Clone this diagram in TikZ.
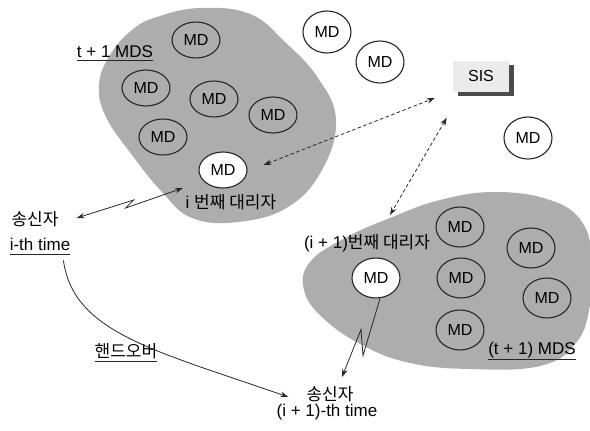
\documentclass[tikz,border=0pt]{standalone}
\usepackage{fontspec}
\setmainfont{Liberation Sans}
\newfontfamily\kr{Noto Sans CJK KR}
\usetikzlibrary{shapes.geometric,arrows.meta,shadows}

\begin{document}
\begin{tikzpicture}[x=1pt,y=-1pt,
  md/.style={ellipse,draw=black!85,line width=1.1pt,minimum width=48pt,
    minimum height=36pt,inner sep=0pt,font=\fontsize{16}{16}\selectfont},
  mdout/.style={md,minimum height=42pt},
  mdbot/.style={md,minimum height=40pt},
  active/.style={fill=white},
  lbl/.style={inner sep=0pt,font=\fontsize{17}{17}\selectfont},
  blob/.style={fill=black!32,draw=none},
  ul/.style={line width=0.8pt,black!85},
  link/.style={line width=0.8pt,black!85},
  tipe/.style={-{Stealth[length=8pt,width=5.5pt]}},
  tipb/.style={{Stealth[length=8pt,width=5.5pt]}-{Stealth[length=8pt,width=5.5pt]}},
  query/.style={link,dashed,dash pattern=on 3.5pt off 2.5pt,tipb},
]
\useasboundingbox (0,0) rectangle (590,431);

% the two shaded MD groups
\fill[blob] plot[smooth cycle,tension=0.7] coordinates {
  (157,17) (200,8) (250,14) (285,42) (318,78) (336,120) (322,170)
  (288,207) (238,222) (192,218) (162,192) (132,155) (106,117)
  (99,85) (110,55) (132,30)};
\fill[blob] plot[smooth cycle,tension=0.7] coordinates {
  (390,218) (440,200) (495,192) (550,200) (582,222) (592,260)
  (590,305) (576,343) (540,366) (470,369) (410,363) (362,345)
  (323,318) (304,290) (310,262) (345,238)};

% devices of the first group
\node[md] (a1) at (196,40) {MD};
\node[md] (a2) at (146,88) {MD};
\node[md] (a3) at (214,99) {MD};
\node[md] (a4) at (273,115) {MD};
\node[md] (a5) at (163,137) {MD};
\node[md,active] (mdI) at (223,170) {MD};

% free devices
\node[mdout] (f1) at (327,32) {MD};
\node[mdout] (f2) at (380,62) {MD};
\node[mdout] (f3) at (528,138) {MD};

% devices of the second group
\node[mdbot] (b1) at (460,227) {MD};
\node[mdbot] (b2) at (531,248) {MD};
\node[mdbot] (b3) at (461,278) {MD};
\node[mdbot] (b4) at (547,298) {MD};
\node[mdbot] (b5) at (460,330) {MD};
\node[mdbot,active] (mdJ) at (376,278) {MD};

% information server
\node[fill=black!8,minimum width=56pt,minimum height=31pt,inner sep=0pt,
  font=\fontsize{16}{16}\selectfont,
  drop shadow={shadow xshift=5pt,shadow yshift=-4pt,fill=black!70,opacity=1}]
  (sis) at (481,76) {SIS};

% labels
\node[lbl] (g1) at (115,52) {t + 1 MDS};
\draw[ul] ([yshift=-3pt]g1.base west) -- ([yshift=-3pt]g1.base east);
\node[lbl] (p1) at (231,202) {i {\kr 번째 대리자}};
\node[lbl] (snd1) at (35,219) {\kr 송신자};
\node[lbl] (t1) at (40,244) {i-th time};
\draw[ul] ([yshift=-4pt]t1.base west) -- ([yshift=-4pt]t1.base east);
\node[lbl] (ho) at (126,351) {\kr 핸드오버};
\draw[ul] ([yshift=-4pt]ho.base west) -- ([yshift=-4pt]ho.base east);
\node[lbl] (p2) at (367,243) {(i + 1){\kr 번째 대리자}};
\node[lbl] (g2) at (532,350) {(t + 1) MDS};
\draw[ul] ([yshift=-5pt]g2.base west) -- ([yshift=-5pt]g2.base east);
\node[lbl] (snd2) at (330,394) {\kr 송신자};
\node[lbl] (t2) at (327,412) {(i + 1)-th time};

% wireless links
\draw[link,tipb] ([shift={(18,-1)}]snd1.east) -- ++(57,-18) -- ++(-8,8)
  -- ([shift={(-40,18)}]mdI.center);
\draw[link,tipe] ([shift={(4,0)}]mdJ.south) -- ++(-17,57) -- ++(-2,-26)
  -- ([shift={(12,-17)}]snd2.center);

% queries to the server
\coordinate (hookB) at (390,215);
\draw[query] ([shift={(16,-5)}]mdI.east) -- ([shift={(-18,22)}]sis.west);
\draw[query] ([shift={(-6,26)}]sis.south west) -- (hookB);

% handover path
\draw[link,tipe] ([shift={(-7,10)}]t1.south east)
  .. controls +(10,72) and +(-135,-47) .. ([shift={(-18,3)}]snd2.west);
\end{tikzpicture}
\end{document}
